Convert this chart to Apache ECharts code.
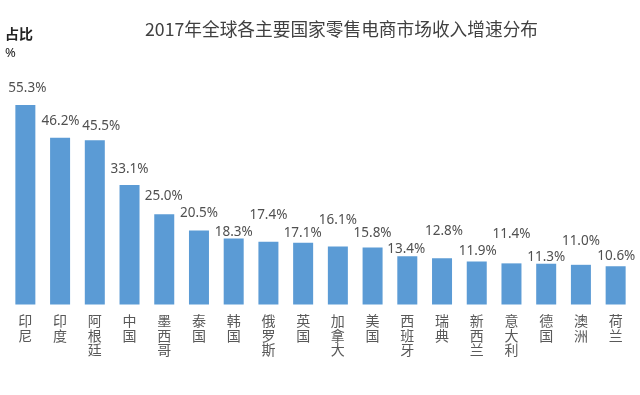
<!DOCTYPE html>
<html>
<head>
<meta charset="utf-8">
<script src="https://cdn.jsdelivr.net/npm/echarts@6/dist/echarts.min.js"></script>
<style>html,body{margin:0;padding:0;background:#fff}#c{width:640px;height:395px}</style>
</head>
<body>
<div id="c"></div>
<script>
const titleText = '2017年全球各主要国家零售电商市场收入增速分布';
const categories = ['印尼','印度','阿根廷','中国','墨西哥','泰国','韩国','俄罗斯','英国','加拿大','美国','西班牙','瑞典','新西兰','意大利','德国','澳洲','荷兰'];
const growth = [55.3, 46.2, 45.5, 33.1, 25.0, 20.5, 18.3, 17.4, 17.1, 16.1, 15.8, 13.4, 12.8, 11.9, 11.4, 11.3, 11.0, 10.6];
// label placement (px of label centre above bar top, horizontal shift)
const labelRaise = [17, 16.3, 14, 16, 18, 17.4, 6.5, 26.7, 9.3, 26, 14, 7, 27, 10, 29, 6.5, 23.3, 9.6];
const labelShift = [2, 0.5, 6.5, 0, -0.5, 0, 0, 0, -0.5, 0, 0, -1, 2, 1, 0, 0, 0, 0.7];

const LBL_FONT = 13.5;
const chart = echarts.init(document.getElementById('c'), null, {renderer: 'canvas'});
chart.setOption({
  animation: false,
  backgroundColor: '#ffffff',
  title: [
    {text: titleText, left: 145, top: 20, padding: 0,
     textStyle: {fontFamily: '"Noto Sans CJK SC", sans-serif', fontSize: 17.7, fontWeight: 'normal', color: '#404040'}},
    {text: '占比', left: 5, top: 27, padding: 0,
     textStyle: {fontFamily: '"Noto Sans CJK SC", sans-serif', fontSize: 14, fontWeight: 'bold', color: '#222'}},
    {text: '%', left: 5, top: 47, padding: 0,
     textStyle: {fontFamily: '"Noto Sans", sans-serif', fontSize: 13, fontWeight: 'normal', color: '#222'}}
  ],
  grid: {left: 8, right: 7, top: 88, bottom: 90.5, containLabel: false},
  xAxis: {
    type: 'category',
    data: categories,
    axisLine: {show: false},
    axisTick: {show: false},
    axisLabel: {
      interval: 0,
      margin: 9,
      fontFamily: '"Noto Sans CJK SC", sans-serif',
      fontSize: 14,
      lineHeight: 14.5,
      color: '#595959',
      verticalAlign: 'top',
      formatter: v => v.split('').join('\n')
    }
  },
  yAxis: {type: 'value', min: 0, max: 60, show: false, splitLine: {show: false}},
  series: [{
    type: 'bar',
    barWidth: 20,
    itemStyle: {color: '#5B9BD5'},
    data: growth.map((v, i) => ({
      value: v,
      label: {offset: [labelShift[i], -(labelRaise[i] - 5 - LBL_FONT / 2)]}
    })),
    label: {
      show: true,
      position: 'top',
      distance: 5,
      fontFamily: '"Noto Sans", sans-serif',
      fontSize: LBL_FONT,
      color: '#505050',
      formatter: p => p.value.toFixed(1) + '%'
    }
  }]
});
</script>
</body>
</html>
